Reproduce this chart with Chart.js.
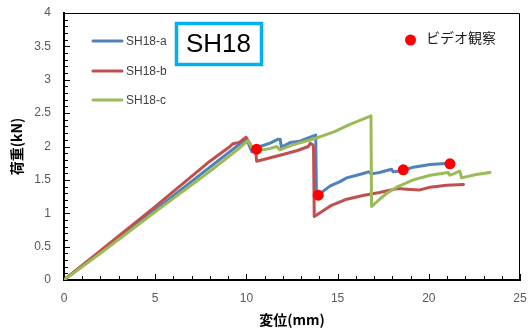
<!DOCTYPE html>
<html>
<head>
<meta charset="utf-8">
<script src="https://cdn.jsdelivr.net/npm/chart.js@4/dist/chart.umd.min.js"></script>
<style>
html,body{margin:0;padding:0;background:#fff;}
#wrap{position:relative;width:528px;height:332px;}
canvas{display:block;}
</style>
</head>
<body>
<div id="wrap"><canvas id="c" width="528" height="332"></canvas></div>
<script>
// ---- data ----
const seriesNames = ['SH18-a', 'SH18-b', 'SH18-c'];
const videoName = 'ビデオ観察';
const titleBoxText = 'SH18';
const xTitle = '変位(mm)';
const yTitle = '荷重(kN)';

const aX = [0, 2, 5, 8, 9.6, 10.0, 10.15, 10.3, 10.5, 10.75, 11.3, 11.75, 11.85, 11.92, 12.4, 12.94, 13.5, 13.8, 13.84, 13.94, 14.3, 14.6, 15.1, 15.5, 16.05, 16.45, 16.7, 16.85, 17.3, 17.96, 18.05, 18.6, 19.15, 20.07, 20.7, 21.16];
const aY = [0, 0.42, 1.05, 1.69, 2.03, 2.12, 2.02, 1.92, 1.92, 2.0, 2.05, 2.11, 2.11, 1.99, 2.06, 2.08, 2.14, 2.17, 1.3, 1.27, 1.35, 1.41, 1.47, 1.53, 1.57, 1.60, 1.62, 1.59, 1.61, 1.66, 1.62, 1.64, 1.69, 1.73, 1.74, 1.75];

const bX = [0, 2, 5, 8, 9.1, 9.25, 9.6, 9.98, 10.35, 10.5, 10.56, 11.0, 12.0, 12.8, 13.4, 13.5, 13.62, 13.68, 13.72, 14.0, 14.6, 15.5, 16.45, 17.3, 18.3, 18.8, 19.5, 20.07, 20.98, 21.9];
const bY = [0, 0.44, 1.1, 1.78, 2.0, 2.04, 2.06, 2.14, 1.97, 1.96, 1.78, 1.81, 1.88, 1.94, 2.0, 2.05, 2.03, 2.0, 0.95, 1.0, 1.11, 1.21, 1.27, 1.31, 1.37, 1.36, 1.35, 1.39, 1.42, 1.43];

const cX = [0, 2, 5, 8, 9.5, 10.1, 10.2, 10.36, 10.9, 11.3, 11.66, 11.84, 12.5, 13.76, 14.8, 15.68, 16.83, 16.86, 17.3, 17.7, 18.24, 19.15, 20.07, 21.07, 21.15, 21.35, 21.7, 21.8, 22.6, 23.35];
const cY = [0, 0.4, 1.02, 1.63, 1.95, 2.09, 2.03, 1.95, 1.95, 1.97, 2.0, 1.95, 2.02, 2.12, 2.22, 2.33, 2.46, 1.10, 1.21, 1.30, 1.39, 1.50, 1.57, 1.61, 1.57, 1.59, 1.63, 1.53, 1.58, 1.61];

const videoX = [10.56, 13.94, 18.6, 21.16];
const videoY = [1.96, 1.27, 1.65, 1.74];

const xTickValues = [0, 5, 10, 15, 20, 25];
const yTickValues = [0, 0.5, 1, 1.5, 2, 2.5, 3, 3.5, 4];

// ---- build ----
const toPts = (xs, ys) => xs.map((x, i) => ({x: x, y: ys[i]}));
const colors = ['#4F81BD', '#C0504D', '#9BBB59'];
const FONT = "'Liberation Sans', Arial, 'Noto Sans CJK JP', sans-serif";
const JFONT = "'Noto Sans CJK JP', 'Liberation Sans', sans-serif";

function lineDs(label, pts, color, order) {
  return {label: label, data: pts, showLine: true, borderColor: color, backgroundColor: color,
    borderWidth: 3, pointRadius: 0, pointHoverRadius: 0, tension: 0, order: order,
    borderJoinStyle: 'round', borderCapStyle: 'round'};
}

const datasets = [
  lineDs(seriesNames[0], toPts(aX, aY), colors[0], 3),
  lineDs(seriesNames[1], toPts(bX, bY), colors[1], 2),
  lineDs(seriesNames[2], toPts(cX, cY), colors[2], 1),
  {label: videoName, data: toPts(videoX, videoY), showLine: false, pointRadius: 5.5,
   pointBackgroundColor: '#FF0000', pointBorderColor: '#FF0000', borderWidth: 0, order: 0}
];

const decor = {
  id: 'decor',
  beforeDatasetsDraw(chart) {
    const ctx = chart.ctx, a = chart.chartArea, xs = chart.scales.x, ys = chart.scales.y;
    ctx.save();
    ctx.strokeStyle = '#000'; ctx.lineWidth = 1;
    ctx.beginPath();
    ctx.moveTo(a.left, a.top + 0.5); ctx.lineTo(a.right - 0.5, a.top + 0.5); ctx.lineTo(a.right - 0.5, a.bottom);
    ctx.stroke();
    ctx.beginPath();
    for (let i = 0; i <= 40; i++) {
      const py = Math.round(ys.getPixelForValue(i / 10)) + 0.5;
      const len = (i % 5 === 0) ? 5 : 3;
      ctx.moveTo(a.left, py); ctx.lineTo(a.left + 1 + len, py);
    }
    for (let i = 0; i <= 25; i++) {
      const px = Math.round(xs.getPixelForValue(i)) + 0.5;
      const len = (i % 5 === 0) ? 5 : 3;
      ctx.moveTo(px, a.bottom); ctx.lineTo(px, a.bottom - 1 - len);
    }
    ctx.stroke();
    ctx.restore();
  },
  afterDraw(chart) {
    const ctx = chart.ctx;
    ctx.save();
    const ds = chart.data.datasets;
    const ly = [41, 71, 100];
    for (let i = 0; i < 3; i++) {
      ctx.strokeStyle = ds[i].borderColor; ctx.lineWidth = 3; ctx.lineCap = 'round';
      ctx.beginPath(); ctx.moveTo(93, ly[i]); ctx.lineTo(122, ly[i]); ctx.stroke();
      ctx.fillStyle = '#404040'; ctx.font = '12px ' + FONT;
      ctx.textBaseline = 'middle'; ctx.textAlign = 'left';
      ctx.fillText(ds[i].label, 126, ly[i] + 1);
    }
    ctx.fillStyle = '#FF0000';
    ctx.beginPath(); ctx.arc(410.5, 40, 5.5, 0, Math.PI * 2); ctx.fill();
    ctx.fillStyle = '#1a1a1a'; ctx.font = '14px ' + JFONT;
    ctx.textBaseline = 'middle';
    ctx.fillText(ds[3].label, 426, 38);
    ctx.strokeStyle = '#00B0F0'; ctx.lineWidth = 3.5;
    ctx.strokeRect(176.5, 23.5, 85, 41);
    ctx.fillStyle = '#000'; ctx.font = '26px ' + FONT;
    ctx.textAlign = 'center'; ctx.textBaseline = 'middle';
    ctx.fillText(titleBoxText, 218.5, 45);
    ctx.restore();
  }
};

new Chart(document.getElementById('c'), {
  type: 'scatter',
  data: {datasets: datasets},
  plugins: [decor],
  options: {
    responsive: false, animation: false, devicePixelRatio: 1,
    layout: {padding: {left: 0, right: 8, top: 13, bottom: 0}},
    plugins: {legend: {display: false}, tooltip: {enabled: false}},
    scales: {
      x: {
        type: 'linear', min: 0, max: 25,
        afterBuildTicks(s) { s.ticks = xTickValues.map(v => ({value: v})); },
        afterFit(s) { s.height = 52; s.paddingLeft = 0; s.paddingRight = 0; s.paddingTop = 0; s.paddingBottom = 0; },
        ticks: {color: '#595959', font: {size: 12, family: FONT}, padding: 11, maxRotation: 0,
                callback: v => String(v)},
        grid: {display: false, drawTicks: false},
        border: {display: true, color: '#000', width: 2},
        title: {display: true, text: xTitle, color: '#000',
                font: {size: 14, weight: 'bold', family: JFONT}, padding: {top: 0, bottom: 4}}
      },
      y: {
        type: 'linear', min: 0, max: 4,
        afterBuildTicks(s) { s.ticks = yTickValues.map(v => ({value: v})); },
        afterFit(s) { s.width = 64; s.paddingLeft = 0; s.paddingRight = 0; s.paddingTop = 0; s.paddingBottom = 0; },
        ticks: {color: '#595959', font: {size: 12, family: FONT}, padding: 13,
                callback: v => String(v)},
        grid: {display: false, drawTicks: false},
        border: {display: true, color: '#000', width: 2},
        title: {display: true, text: yTitle, color: '#000',
                font: {size: 14, weight: 'bold', family: JFONT}, padding: {top: 8, bottom: 0}}
      }
    }
  }
});
</script>
</body>
</html>
